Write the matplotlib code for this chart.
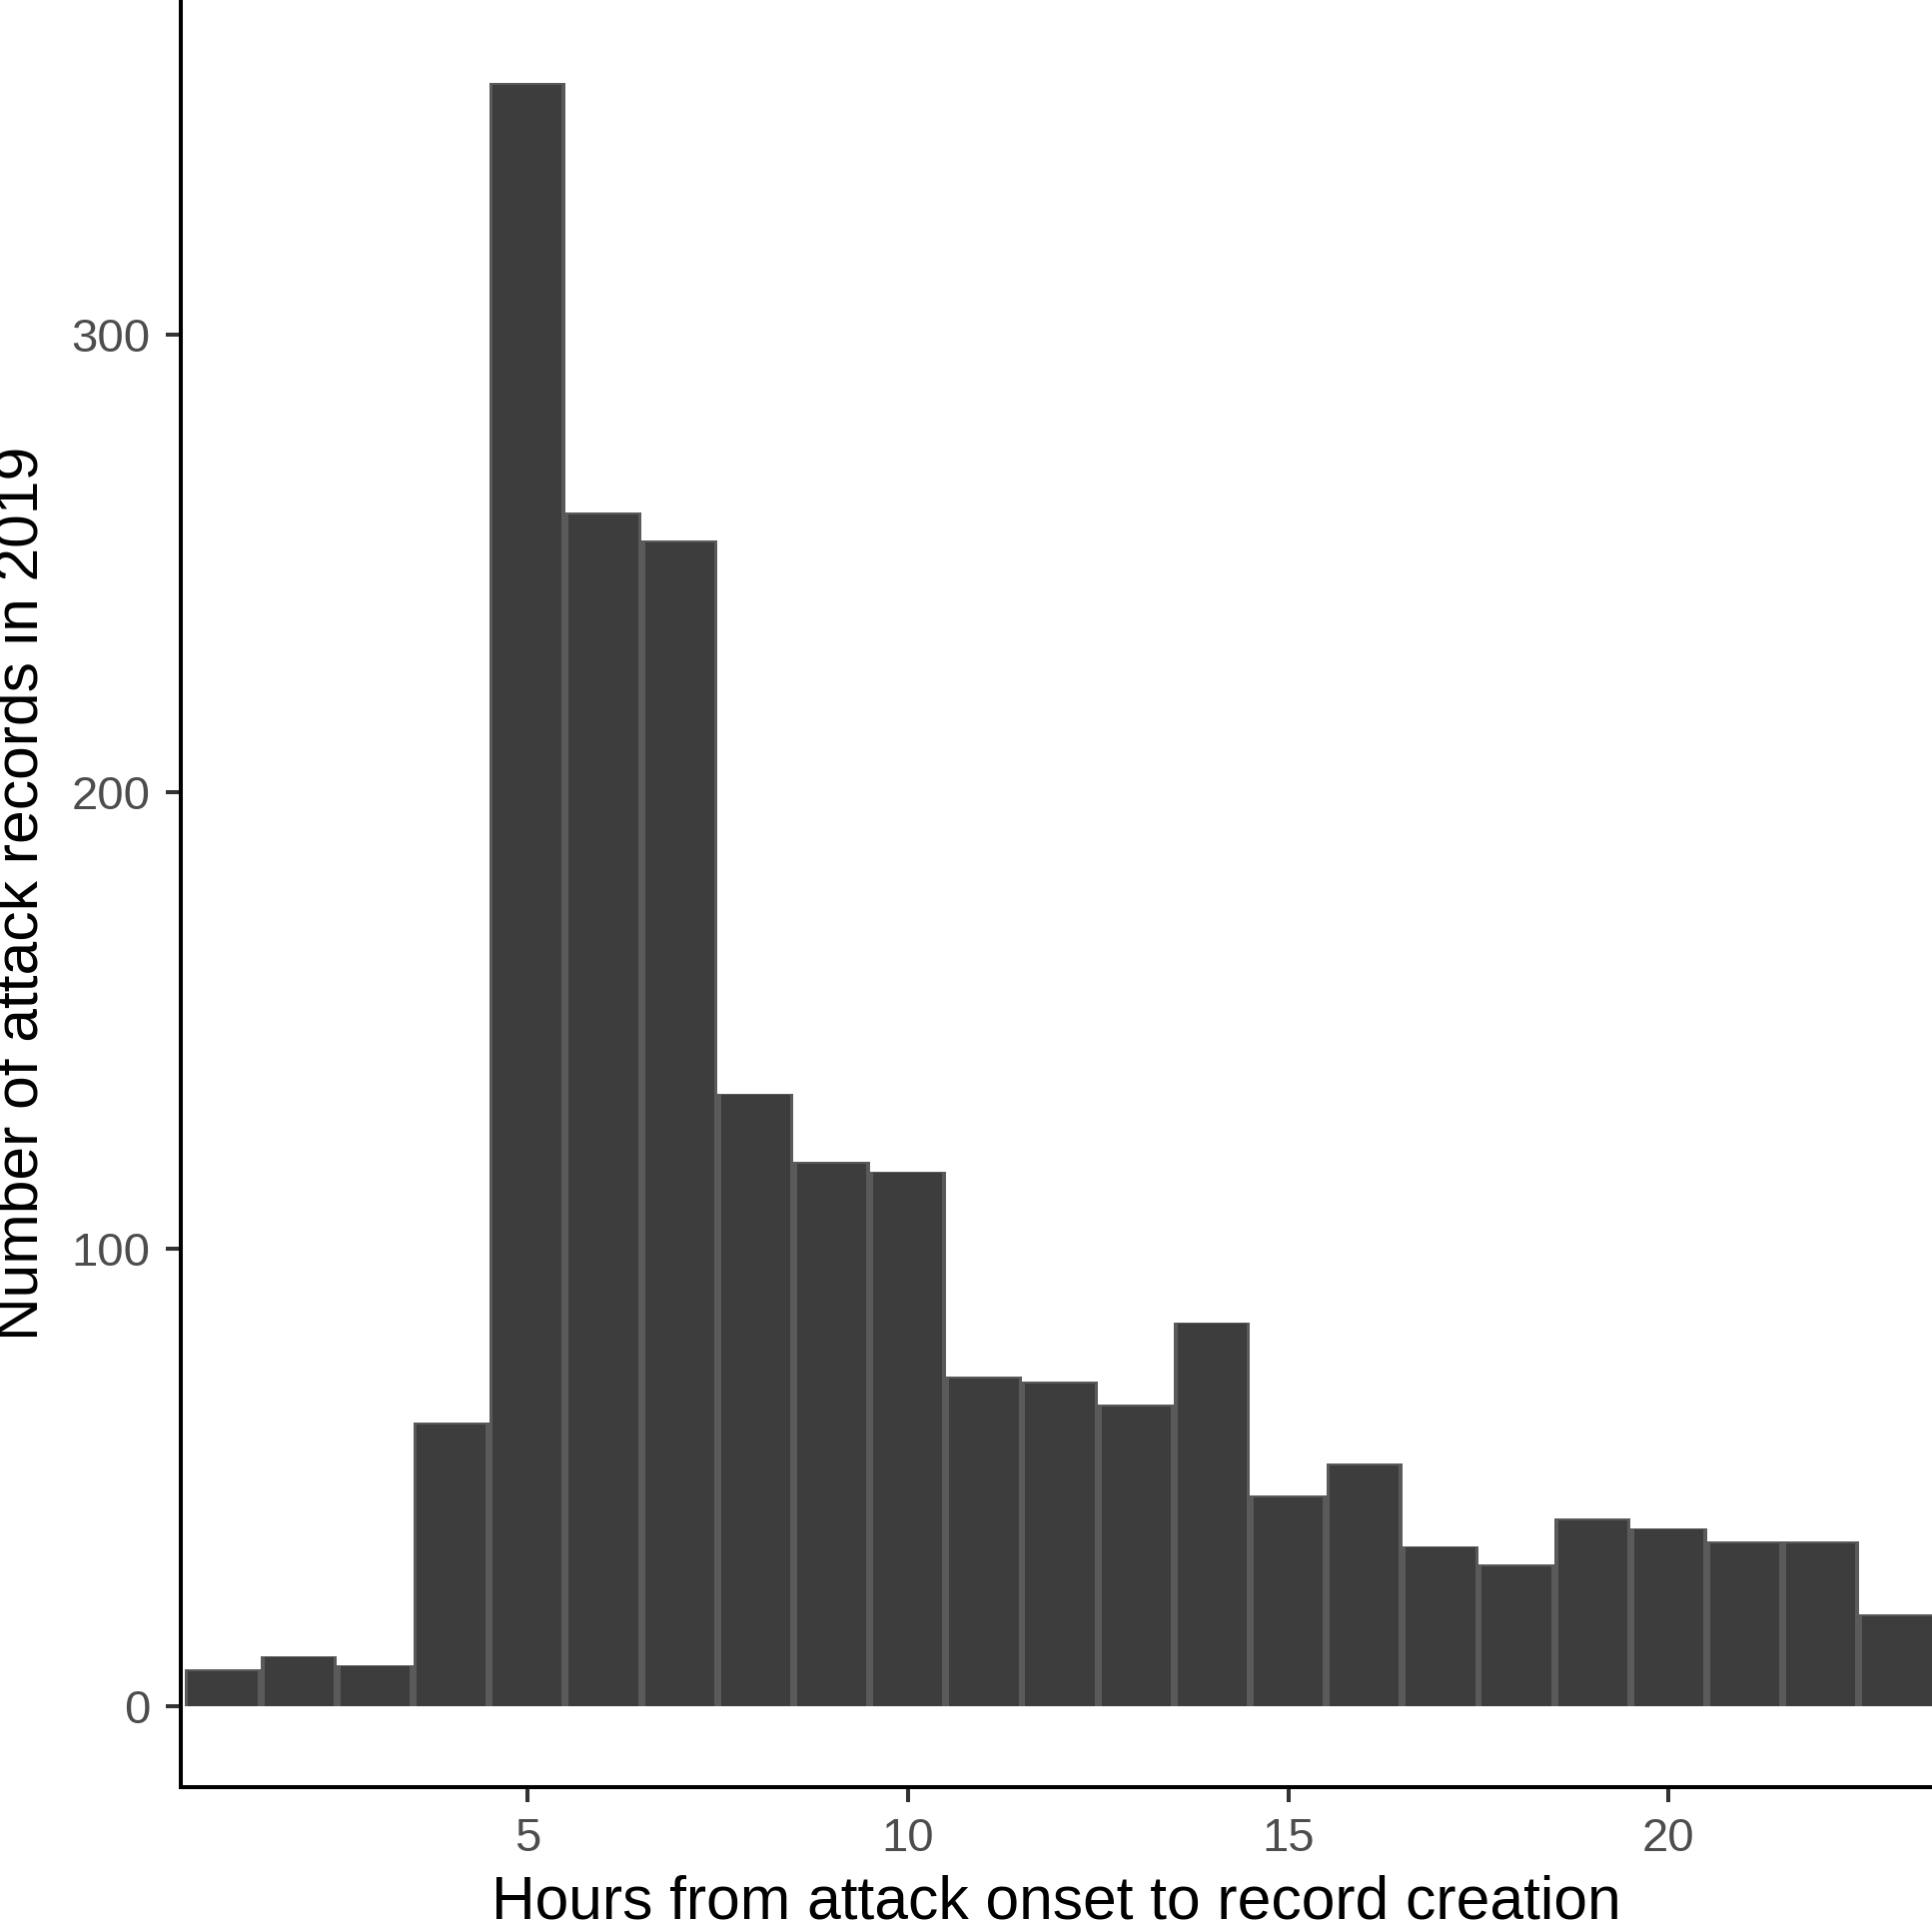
import matplotlib
matplotlib.use("Agg")
import matplotlib.pyplot as plt
import numpy as np

plt.rcParams['font.family'] = ['Liberation Sans', 'DejaVu Sans']

# Histogram data: hours (bin centres) and counts
hours = list(range(1, 24))
counts = [8, 11, 9, 62, 355, 261, 255, 134, 119, 117, 72, 71, 66, 84,
          46, 53, 35, 31, 41, 39, 36, 36, 20]
x_ticks = [5, 10, 15, 20]
y_ticks = [0, 100, 200, 300]
x_title = "Hours from attack onset to record creation"
y_title = "Number of attack records in 2019"

W, H, DPI = 1934, 1922, 100
fig = plt.figure(figsize=(W / DPI, H / DPI), dpi=DPI)
ax = fig.add_axes([181 / W, (H - 1789) / H, 1 - 181 / W, 1789 / H])

hrs = np.array(hours)
cnt = np.array(counts)
# outline colour layer, then fill layer slightly inset
ax.bar(hrs, cnt, width=1.0, color='#5a5a5a', edgecolor='none', zorder=2)
ax.bar(hrs, cnt - 0.35, width=0.91, color='#3d3d3d', edgecolor='none', zorder=3)

ax.set_xlim(0.447, 23.46)
ax.set_ylim(-17.7, 373.2)
ax.set_xticks(x_ticks)
ax.set_yticks(y_ticks)

for s in ['top', 'right']:
    ax.spines[s].set_visible(False)
for s in ['left', 'bottom']:
    ax.spines[s].set_linewidth(2.9)
    ax.spines[s].set_color('black')

ax.tick_params(axis='both', length=10.8, width=2.9, color='#333333',
               labelcolor='#4d4d4d', labelsize=34, pad=11)

ax.set_xlabel(x_title, fontsize=43.6, color='black', labelpad=9.5)
ax.set_ylabel(y_title, fontsize=43.6, color='black', labelpad=15)

fig.savefig("out.png", dpi=DPI)
